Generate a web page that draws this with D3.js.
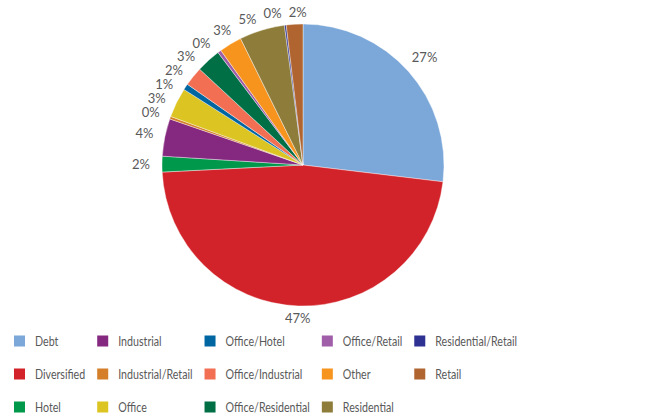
<!DOCTYPE html>
<html>
<head>
<meta charset="utf-8">
<script src="https://cdn.jsdelivr.net/npm/d3@7"></script>
<style>
  html, body { margin: 0; padding: 0; background: #fff; }
  svg { display: block; }
  text { font-family: "Lato", "Open Sans", sans-serif; fill: #595959; }
</style>
</head>
<body>
<svg id="chart" width="658" height="415"></svg>
<script>
// Sectors, in drawing order (clockwise from 12 o'clock)
const categories = ["Debt", "Diversified", "Hotel", "Industrial", "Industrial/Retail", "Office",
  "Office/Hotel", "Office/Industrial", "Office/Residential", "Office/Retail", "Other",
  "Residential", "Residential/Retail", "Retail"];
// Share of the portfolio, percent
const shares = [26.9, 47.3, 1.8, 4.3, 0.3, 3.4, 0.7, 2.2, 2.8, 0.4, 2.6, 5.2, 0.2, 1.9];
const colors = ["#7ba7d9", "#d2232a", "#00984a", "#85287f", "#d57f2a", "#dcc422",
  "#0066a1", "#f26f53", "#006f45", "#a05ea8", "#f7941d", "#8e7d3a", "#2e3192", "#b06530"];

const svg = d3.select("#chart");
const cx = 303, cy = 165, R = 141;

const color = d3.scaleOrdinal().domain(categories).range(colors);
const data = categories.map((c, i) => ({ name: c, value: shares[i] }));
const total = d3.sum(shares);

const pie = d3.pie().value(d => d.value).sort(null);
const arcs = pie(data);
const arc = d3.arc().innerRadius(0).outerRadius(R);

const g = svg.append("g").attr("transform", `translate(${cx},${cy})`);
g.selectAll("path.slice")
  .data(arcs)
  .join("path")
  .attr("class", "slice")
  .attr("d", arc)
  .attr("fill", d => color(d.data.name))
  .attr("stroke", "#ffffff")
  .attr("stroke-width", 0.4);

// Percentage labels outside each slice; crowded ones are pushed apart
const fmt = v => Math.round(v / total * 100) + "%";
const fontSize = 13, labelH = 12, gapOut = 12, padX = 7, padY = 2.3;

const labels = g.selectAll("text.pct")
  .data(arcs)
  .join("text")
  .attr("class", "pct")
  .attr("font-size", fontSize)
  .attr("text-anchor", "middle")
  .attr("dominant-baseline", "central")
  .text(d => fmt(d.data.value));

const widths = [];
labels.each(function () { widths.push(this.getComputedTextLength()); });

const ang = arcs.map(a => (a.startAngle + a.endAngle) / 2);
const radiusAt = (a, w) => R + gapOut + Math.abs(Math.sin(a)) * w / 2;
// angular spacing so that neighbouring label boxes clear each other
// either horizontally or vertically
const needSep = (i) => {
  const a = (ang[i] + ang[i - 1]) / 2;
  const w = (widths[i] + widths[i - 1]) / 2 + padX;
  const h = labelH + padY;
  const r = radiusAt(a, w);
  const c = Math.max(Math.abs(Math.cos(a)), 1e-6), s = Math.max(Math.abs(Math.sin(a)), 1e-6);
  return Math.min(w / c, h / s) / r;
};
// the last label may not run past 12 o'clock
const maxAng = 2 * Math.PI - 0.035;
for (let it = 0; it < 300; it++) {
  for (let i = 1; i < ang.length; i++) {
    const sep = needSep(i);
    const gap = ang[i] - ang[i - 1];
    if (gap < sep) {
      const d = (sep - gap) / 2;
      ang[i - 1] -= d;
      ang[i] += d;
    }
  }
  if (ang[ang.length - 1] > maxAng) ang[ang.length - 1] = maxAng;
}

labels.each(function (d, i) {
  const a = ang[i];
  const r = radiusAt(a, widths[i]);
  d3.select(this).attr("x", Math.sin(a) * r).attr("y", -Math.cos(a) * r);
});

// Legend: column-major, 3 rows, column widths follow the longest entry
const rows = 3;
const rowY = [341, 374, 407];
const sw = 11, textGap = 10, colGap = 12, squeeze = 0.82;
const legend = svg.append("g").attr("class", "legend");
let colX = 14;
for (let col = 0; col * rows < categories.length; col++) {
  const items = categories.slice(col * rows, col * rows + rows);
  let maxW = 0;
  items.forEach((name, r) => {
    const y = rowY[r];
    legend.append("rect")
      .attr("x", colX).attr("y", y - sw / 2)
      .attr("width", sw).attr("height", sw)
      .attr("fill", color(name));
    const t = legend.append("text")
      .attr("transform", `translate(${colX + sw + textGap},${y}) scale(${squeeze},1)`)
      .attr("dominant-baseline", "central")
      .attr("font-size", 13)
      .text(name);
    maxW = Math.max(maxW, t.node().getComputedTextLength() * squeeze);
  });
  colX += sw + textGap + maxW + colGap;
}
</script>
</body>
</html>
